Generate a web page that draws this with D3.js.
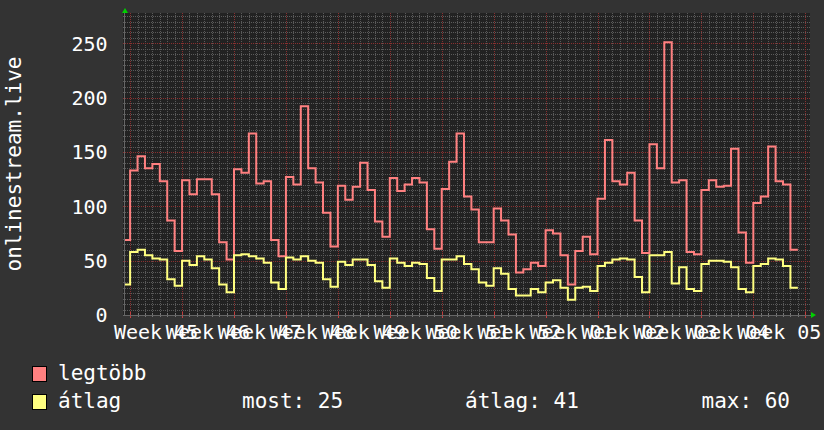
<!DOCTYPE html>
<html><head><meta charset="utf-8">
<script src="https://cdn.jsdelivr.net/npm/d3@7"></script>
<style>html,body{margin:0;padding:0;background:#333333;} svg{display:block}</style>
</head><body>
<svg id="chart" width="824" height="430"></svg>
<script>
// ---------- data ----------
const title = "onlinestream.live";
const weekLabels = ["Week 45","Week 46","Week 47","Week 48","Week 49","Week 50","Week 51","Week 52","Week 01","Week 02","Week 03","Week 04","Week 05"];
const yTicks = [0, 50, 100, 150, 200, 250];
// daily samples, first one is the day before week 45 starts
const startDate = "2023-11-05";
const maxValues = [69,133,146,135,139,123,87,59,124,111,125,125,111,67,51,
  134,131,167,121,123,69,54,127,120,192,135,122,94,63,
  119,106,118,140,115,86,72,126,114,120,126,122,79,61,
  116,141,167,109,97,67,67,98,87,74,39,42,48,45,
  78,75,55,28,59,72,56,107,161,123,120,131,87,57,
  157,135,251,122,124,58,56,115,124,118,119,153,76,48,
  103,109,155,123,120,60];
const avgValues = [28,58,60,55,52,51,33,27,50,46,54,51,43,28,21,
  55,56,54,52,48,30,24,53,51,54,50,48,33,26,
  49,46,51,51,46,31,25,52,48,45,48,47,34,22,
  51,51,54,47,42,30,27,43,38,24,18,18,24,21,
  30,32,25,14,25,26,22,45,48,51,52,51,35,21,
  55,55,58,29,44,24,22,47,50,50,49,44,24,21,
  45,47,52,51,45,25];
const legendNames = ["legtöbb", "átlag"];
const legendStats = ["most: 25", "átlag: 41", "max: 60"];
const seriesColors = ["#ff8080", "#ffff80"];

// ---------- layout ----------
const W = 824, H = 430;
const plot = {left: 123, right: 810, top: 13, bottom: 315};
const svg = d3.select("#chart");
const DAY = 86400000;
const t0 = d3.utcParse("%Y-%m-%d")(startDate);
const dates = maxValues.map((_, i) => new Date(t0.getTime() + i * DAY));
const weekStart = new Date(t0.getTime() + DAY); // Monday of week 45

const x = d3.scaleUtc()
  .domain([new Date(weekStart.getTime() - 0.96 * DAY), new Date(weekStart.getTime() + 91.64 * DAY)])
  .range([plot.left, plot.right]);
const y = d3.scaleLinear().domain([0, 250]).range([plot.bottom, 43.3]);

svg.append("rect").attr("width", W).attr("height", H).attr("fill", "#333333");
svg.append("rect").attr("x", plot.left).attr("y", plot.top)
  .attr("width", plot.right - plot.left).attr("height", plot.bottom - plot.top)
  .attr("fill", "#222222");

const font = "'DejaVu Sans Mono', monospace";

// grid
const g = svg.append("g").attr("shape-rendering", "crispEdges");
const days = d3.utcDay.range(x.domain()[0], x.domain()[1]);
const weeks = d3.utcMonday.range(x.domain()[0], x.domain()[1]);
const yTop = y.invert(plot.top);
const minorY = d3.range(0, yTop, 5);
g.selectAll(".hmin").data(minorY).join("line")
  .attr("x1", plot.left).attr("x2", plot.right)
  .attr("y1", d => Math.round(y(d)) + 0.5).attr("y2", d => Math.round(y(d)) + 0.5)
  .attr("stroke", "#5a5a5a").attr("stroke-dasharray", "1,1");
g.selectAll(".vmin").data(days).join("line")
  .attr("x1", d => Math.round(x(d)) + 0.5).attr("x2", d => Math.round(x(d)) + 0.5)
  .attr("y1", plot.top).attr("y2", plot.bottom)
  .attr("stroke", "#5a5a5a").attr("stroke-dasharray", "1,1");
g.selectAll(".hmaj").data(yTicks).join("line")
  .attr("x1", plot.left).attr("x2", plot.right)
  .attr("y1", d => Math.round(y(d)) + 0.5).attr("y2", d => Math.round(y(d)) + 0.5)
  .attr("stroke", "#8a3030").attr("stroke-dasharray", "1,1");
g.selectAll(".vmaj").data(weeks).join("line")
  .attr("x1", d => Math.round(x(d)) + 0.5).attr("x2", d => Math.round(x(d)) + 0.5)
  .attr("y1", plot.top).attr("y2", plot.bottom)
  .attr("stroke", "#8a3030").attr("stroke-dasharray", "1,1");

// axis ticks along bottom
g.selectAll(".tmin").data(days).join("line")
  .attr("x1", d => Math.round(x(d)) + 0.5).attr("x2", d => Math.round(x(d)) + 0.5)
  .attr("y1", plot.bottom - 2).attr("y2", plot.bottom + 2).attr("stroke", "#777");
g.selectAll(".tmaj").data(weeks).join("line")
  .attr("x1", d => Math.round(x(d)) + 0.5).attr("x2", d => Math.round(x(d)) + 0.5)
  .attr("y1", plot.bottom - 3).attr("y2", plot.bottom + 3).attr("stroke", "#c04040");
g.append("line").attr("x1", plot.left).attr("x2", plot.right + 2)
  .attr("y1", plot.bottom + 0.5).attr("y2", plot.bottom + 0.5).attr("stroke", "#666");
g.append("line").attr("x1", plot.left + 1.5).attr("x2", plot.left + 1.5)
  .attr("y1", plot.top - 2).attr("y2", plot.bottom).attr("stroke", "#666");

// arrows
svg.append("path").attr("fill", "#00d000")
  .attr("d", `M${plot.left - 1},${plot.top} L${plot.left + 5},${plot.top} L${plot.left + 2},${plot.top - 5} Z`);
svg.append("path").attr("fill", "#00d000")
  .attr("d", `M${plot.right + 1},${plot.bottom - 3} L${plot.right + 1},${plot.bottom + 3} L${plot.right + 6},${plot.bottom} Z`);

// y labels
svg.selectAll(".ylab").data(yTicks).join("text")
  .attr("x", 107.5).attr("y", d => y(d) + 7.4)
  .attr("text-anchor", "end").attr("fill", "#ffffff")
  .style("font-family", font).style("font-size", "20px")
  .text(d => d);

// x labels centred in each week
svg.selectAll(".xlab").data(weekLabels).join("text")
  .attr("x", (d, i) => x(new Date(weekStart.getTime() + (i * 7 + 3.5) * DAY)))
  .attr("y", 338.5).attr("text-anchor", "middle").attr("fill", "#ffffff")
  .style("font-family", font).style("font-size", "20px")
  .text(d => d);

// title
svg.append("text").attr("transform", `translate(21,${(plot.top + plot.bottom) / 2}) rotate(-90)`)
  .attr("text-anchor", "middle").attr("fill", "#ffffff")
  .style("font-family", font).style("font-size", "21px").text(title);

// series
svg.append("clipPath").attr("id", "clip").append("rect")
  .attr("x", plot.left + 2).attr("y", plot.top).attr("width", plot.right - plot.left - 2).attr("height", plot.bottom - plot.top);
const line = d3.line().curve(d3.curveStepAfter).x(d => x(d[0])).y(d => y(d[1]));
[maxValues, avgValues].forEach((vals, k) => {
  const pts = vals.map((v, i) => [dates[i], v]);
  pts.push([new Date(dates[dates.length - 1].getTime() + DAY), vals[vals.length - 1]]);
  svg.append("path").attr("clip-path", "url(#clip)").attr("d", line(pts))
    .attr("fill", "none").attr("stroke", seriesColors[k]).attr("stroke-width", 2)
    .attr("stroke-linejoin", "miter");
});

// legend
const leg = svg.append("g").style("font-family", font).style("font-size", "21px").attr("fill", "#ffffff");
legendNames.forEach((n, i) => {
  const yy = 366 + i * 28;
  leg.append("rect").attr("x", 32.5).attr("y", yy + 0.5).attr("width", 14).attr("height", 15)
    .attr("fill", seriesColors[i]).attr("stroke", "#000").attr("stroke-width", 1);
  leg.append("text").attr("x", 58).attr("y", yy + 14).text(n);
});
const statX = [242, 465, 701.5];
legendStats.forEach((s, i) => {
  leg.append("text").attr("x", statX[i]).attr("y", 366 + 28 + 14).text(s);
});
</script>
</body></html>
